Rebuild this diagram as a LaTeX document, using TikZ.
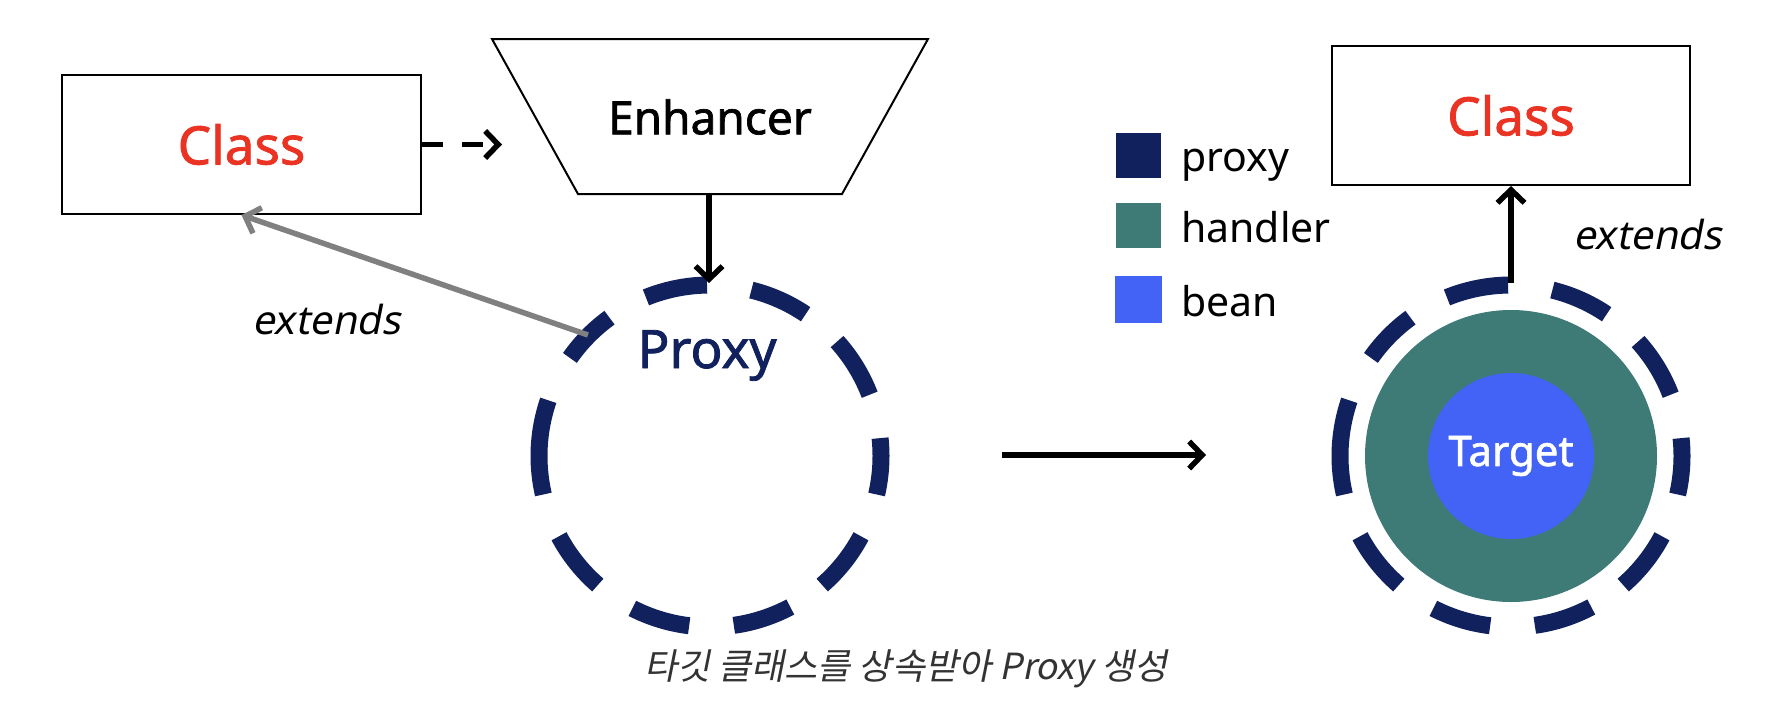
\documentclass[tikz,border=0pt]{standalone}
\usepackage{fontspec}
\setmainfont{Noto Sans}
\newfontfamily\heavyfont[FakeBold=1.5]{Noto Sans}
\newfontfamily\slfont[FakeSlant=0.2]{Noto Sans}
\newfontfamily\krfont[FakeSlant=0.2]{Noto Sans CJK KR}
\usetikzlibrary{arrows.meta}
\definecolor{navy}{RGB}{16,33,94}
\definecolor{tealc}{RGB}{62,122,118}
\definecolor{beanblue}{RGB}{66,99,245}
\definecolor{clsred}{RGB}{234,51,35}
\definecolor{capgray}{RGB}{51,51,51}
\definecolor{extgray}{RGB}{128,128,128}
\begin{document}
\begin{tikzpicture}[x=1pt,y=-1pt,
  box/.style={draw=black, line width=2pt, fill=white, inner sep=0pt},
  conn/.style={line width=5.5pt, -{Straight Barb[length=13pt,width=27pt]}},
  ring/.style={draw=navy, line width=17pt},
  legsq/.style={minimum size=45pt, inner sep=0pt},
  legtxt/.style={anchor=base west, inner sep=0pt, font=\fontsize{41}{46}\selectfont},
  exttxt/.style={anchor=base west, inner sep=0pt, font=\fontsize{40}{46}\selectfont\slfont},
  clstxt/.style={text=clsred, font=\fontsize{53}{60}\selectfont\heavyfont}
]
\useasboundingbox (0,0) rectangle (1778,704);

% left Class box
\node[box, clstxt, minimum width=359pt, minimum height=139pt] (cls1) at (241.5,144.5) {Class};

% Enhancer trapezium
\coordinate (e1) at (492,39);
\coordinate (e2) at (928,39);
\coordinate (e3) at (842,194);
\coordinate (e4) at (578,194);
\draw[line width=2pt] (e1) -- (e2) -- (e3) -- (e4) -- cycle;
\node[font=\fontsize{46}{50}\selectfont\heavyfont] (enh) at (710,117) {Enhancer};
\coordinate (ebot) at (709,194);

% Proxy ring
\coordinate (pc) at (710,456);
\foreach \a/\b in {-112/-91, -76/-56, -42/-21, -6/13, 28/49, 62/82, 97/117, 131/152, 167/199, 215/234}
  \draw[ring] (pc) ++(\a:171) arc[start angle=\a, end angle=\b, radius=171];
\node[anchor=base, text=navy, font=\fontsize{53}{60}\selectfont\heavyfont] (plab) at (707,368) {Proxy};

% right side
\node[box, clstxt, minimum width=358pt, minimum height=139pt] (cls2) at (1511,115.5) {Class};
\node[circle, fill=tealc, minimum size=292pt, inner sep=0pt] (hand) at (1511,456) {};
\node[circle, fill=beanblue, minimum size=166pt, inner sep=0pt, text=white,
      font=\fontsize{42}{46}\selectfont\heavyfont] (tgt) at (1511,456) {Target};
\coordinate (rc) at (1511,456);
\foreach \a/\b in {-112/-91, -76/-56, -42/-21, -6/13, 28/49, 62/82, 97/117, 131/152, 167/199, 215/234}
  \draw[ring] (rc) ++(\a:171) arc[start angle=\a, end angle=\b, radius=171];

% legend
\node[legsq, fill=navy] (lg1) at (1138.5,155) {};
\node[legsq, fill=tealc] (lg2) at (1138.5,225.5) {};
\node[legsq, fill=beanblue, minimum size=47pt] (lg3) at (1138.5,299) {};
\node[legtxt] (lt1) at (1181,171) {proxy};
\node[legtxt] (lt2) at (1181,242) {handler};
\node[legtxt] (lt3) at (1181,316) {bean};

% labels
\node[exttxt] (ext1) at (252,334) {extends};
\node[exttxt] (ext2) at (1573,249) {extends};
\node[anchor=base, text=capgray, inner sep=0pt, font=\fontsize{36}{42}\selectfont\krfont] (cap) at (906,679) {타깃 클래스를 상속받아 Proxy 생성};

% connectors
\coordinate (dend) at (502,144.5);
\draw[conn, dash pattern=on 21pt off 19pt] (cls1.east) -- (dend);
\coordinate (ptop) at (709,283);
\draw[conn] (ebot) -- (ptop);
\coordinate (gstart) at (588,335);
\draw[conn, draw=extgray] (gstart) -- (cls1.south);
\coordinate (m1) at (1002,455);
\coordinate (m2) at (1206,455);
\draw[conn] (m1) -- (m2);
\coordinate (rtop) at (1511,283);
\draw[conn] (rtop) -- (cls2.south);
\end{tikzpicture}
\end{document}
